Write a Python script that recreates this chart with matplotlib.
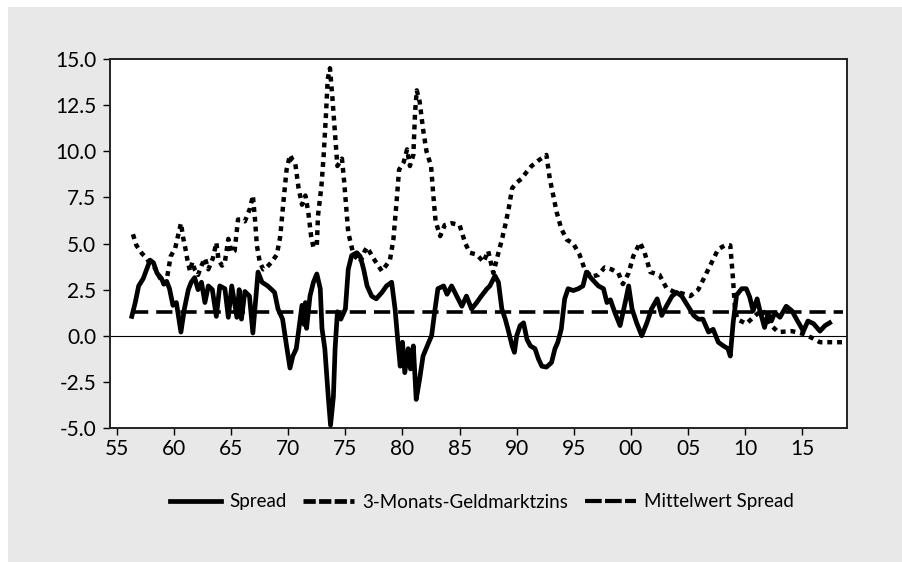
"""
Spread und 3-Monats-Geldmarktzins (Deutschland), EViews-Stil.

Werte vom Originalbild abgelesen (Jahr als Dezimalzahl, Prozent).
"""
import matplotlib
matplotlib.use("Agg")
import matplotlib.pyplot as plt
from matplotlib.lines import Line2D
from matplotlib.patches import Rectangle

# --- 3-Monats-Geldmarktzins ---
rate_t = [
    1956.4, 1956.7, 1957.2, 1957.6, 1957.9, 1958.3, 1958.7, 1959.1, 1959.4, 1959.7,
    1960.1, 1960.3, 1960.6, 1960.8, 1961.0, 1961.2, 1961.4, 1961.6, 1961.8, 1962.1,
    1962.4, 1962.7, 1963.0, 1963.4, 1963.7, 1963.9, 1964.2, 1964.45, 1964.75, 1965.05,
    1965.3, 1965.6, 1965.9, 1966.2, 1966.45, 1966.65, 1966.9, 1967.1, 1967.25, 1967.5,
    1967.8, 1968.1, 1968.55, 1969.0, 1969.3, 1969.55, 1969.85, 1970.15, 1970.4, 1970.6,
    1970.9, 1971.2, 1971.5, 1971.75, 1972.0, 1972.2, 1972.5, 1972.6, 1972.9, 1973.1,
    1973.3, 1973.45, 1973.65, 1973.85, 1974.1, 1974.3, 1974.7, 1974.9, 1975.25, 1975.7,
    1976.3, 1976.7, 1976.9, 1977.45, 1978.2, 1978.9, 1979.2, 1979.5, 1979.7, 1980.1,
    1980.4, 1980.65, 1980.95, 1981.1, 1981.25, 1981.5, 1981.8, 1982.1, 1982.5, 1982.7,
    1982.9, 1983.3, 1983.7, 1984.3, 1985.0, 1985.5, 1985.9, 1986.5, 1987.1, 1987.5,
    1987.95, 1988.4, 1988.7, 1989.0, 1989.3, 1989.6, 1990.0, 1990.4, 1990.9, 1991.3,
    1991.9, 1992.6, 1992.9, 1993.2, 1993.5, 1993.9, 1994.4, 1994.95, 1995.5, 1995.95,
    1996.55, 1997.15, 1997.7, 1998.3, 1998.9, 1999.3, 1999.8, 2000.2, 2000.8, 2001.2,
    2001.7, 2002.5, 2003.1, 2003.7, 2004.45, 2005.2, 2005.9, 2006.5, 2007.1, 2007.65,
    2008.25, 2008.7, 2008.9, 2009.1, 2009.3, 2010.1, 2010.9, 2011.5, 2012.2, 2012.9,
    2014.1, 2015.1, 2015.8, 2016.55, 2017.6, 2018.6,
]
rate_v = [
    5.5, 4.9, 4.45, 4.2, 3.9, 3.7, 3.2, 2.8, 3.2, 4.3,
    4.75, 5.3, 6.1, 5.3, 4.7, 4.0, 3.5, 4.0, 3.6, 3.3,
    3.8, 4.2, 3.6, 4.2, 5.05, 4.1, 3.8, 4.0, 5.25, 4.5,
    4.6, 6.3, 6.3, 6.2, 6.6, 6.9, 7.6, 6.2, 4.9, 4.0,
    3.6, 3.7, 4.0, 4.4, 5.4, 7.1, 9.0, 9.8, 9.5, 9.4,
    8.0, 7.1, 7.6, 6.7, 5.4, 4.8, 4.9, 6.5, 8.1, 9.8,
    12.0, 13.9, 14.5, 13.0, 10.9, 9.2, 9.6, 8.3, 5.6, 4.4,
    4.0, 4.6, 4.8, 4.2, 3.5, 4.1, 5.2, 7.4, 9.0, 9.4,
    10.1, 9.2, 9.8, 12.1, 13.3, 12.7, 11.2, 10.0, 9.2, 7.6,
    6.2, 5.4, 6.0, 6.1, 6.0, 5.0, 4.5, 4.4, 4.0, 4.6,
    3.4, 4.5, 5.2, 6.0, 6.9, 8.0, 8.3, 8.5, 8.9, 9.2,
    9.5, 9.8, 8.5, 7.6, 6.7, 5.8, 5.2, 5.0, 4.4, 3.6,
    3.2, 3.3, 3.7, 3.6, 3.4, 2.8, 3.4, 4.3, 5.05, 4.5,
    3.45, 3.3, 2.6, 2.4, 2.3, 2.15, 2.5, 3.25, 4.0, 4.7,
    4.9, 4.9, 3.4, 1.6, 0.9, 0.65, 1.1, 1.4, 0.6, 0.2,
    0.25, 0.1, -0.1, -0.35, -0.35, -0.35,
]

# --- Spread ---
spread_t = [
    1956.3, 1956.6, 1956.9, 1957.1, 1957.3, 1957.6, 1957.9, 1958.2, 1958.5, 1958.9,
    1959.1, 1959.35, 1959.6, 1959.9, 1960.2, 1960.6, 1960.9, 1961.25, 1961.5, 1961.8,
    1962.1, 1962.4, 1962.7, 1963.0, 1963.35, 1963.7, 1964.0, 1964.45, 1964.75, 1965.05,
    1965.5, 1965.7, 1965.9, 1966.2, 1966.6, 1966.9, 1967.35, 1967.7, 1968.2, 1968.8,
    1969.1, 1969.5, 1969.85, 1970.15, 1970.4, 1970.7, 1971.0, 1971.2, 1971.4, 1971.5,
    1971.6, 1971.9, 1972.2, 1972.5, 1972.8, 1972.95, 1973.2, 1973.5, 1973.7, 1973.95,
    1974.1, 1974.3, 1974.6, 1975.0, 1975.25, 1975.55, 1976.0, 1976.3, 1976.6, 1976.9,
    1977.3, 1977.7, 1978.2, 1978.6, 1979.05, 1979.35, 1979.6, 1979.8, 1980.0, 1980.2,
    1980.5, 1980.7, 1980.95, 1981.2, 1981.5, 1981.8, 1982.3, 1982.55, 1982.85, 1983.1,
    1983.6, 1983.9, 1984.3, 1984.75, 1985.2, 1985.6, 1986.05, 1986.5, 1986.9, 1987.4,
    1987.65, 1988.1, 1988.4, 1988.7, 1989.0, 1989.3, 1989.6, 1989.8, 1990.0, 1990.3,
    1990.6, 1990.9, 1991.2, 1991.6, 1991.9, 1992.2, 1992.6, 1993.05, 1993.35, 1993.6,
    1993.9, 1994.2, 1994.5, 1994.95, 1995.4, 1995.8, 1996.1, 1996.55, 1997.15, 1997.6,
    1997.9, 1998.2, 1998.6, 1999.05, 1999.5, 1999.8, 2000.1, 2000.5, 2000.95, 2001.4,
    2001.8, 2002.3, 2002.7, 2003.1, 2003.6, 2004.0, 2004.45, 2005.0, 2005.5, 2005.9,
    2006.3, 2006.8, 2007.2, 2007.65, 2008.1, 2008.5, 2008.7, 2008.95, 2009.25, 2009.7,
    2010.1, 2010.4, 2010.7, 2011.05, 2011.3, 2011.7, 2012.0, 2012.3, 2012.6, 2013.05,
    2013.6, 2014.1, 2014.5, 2015.1, 2015.5, 2016.0, 2016.55, 2017.0, 2017.4,
]
spread_v = [
    1.05, 1.8, 2.7, 2.9, 3.1, 3.6, 4.1, 3.95, 3.4, 3.1,
    2.8, 2.95, 2.55, 1.65, 1.8, 0.2, 1.45, 2.5, 2.9, 3.15,
    2.5, 2.9, 1.8, 2.7, 2.5, 1.05, 2.7, 2.55, 1.0, 2.7,
    1.0, 2.5, 0.9, 2.4, 2.15, 0.15, 3.45, 2.9, 2.7, 2.35,
    1.45, 0.9, -0.55, -1.75, -1.1, -0.7, 0.7, 1.65, 0.6, 1.8,
    0.4, 2.15, 2.9, 3.35, 2.55, 0.4, -0.7, -3.3, -4.85, -3.3,
    -0.7, 1.3, 0.9, 1.45, 3.6, 4.35, 4.5, 4.3, 3.6, 2.7,
    2.15, 2.0, 2.35, 2.7, 2.9, 1.45, -0.35, -1.65, -0.35, -2.0,
    -0.7, -1.8, -0.55, -3.45, -2.35, -1.1, -0.35, 0.0, 1.45, 2.55,
    2.7, 2.25, 2.7, 2.15, 1.6, 2.15, 1.45, 1.8, 2.15, 2.55,
    2.7, 3.25, 2.9, 1.45, 0.9, 0.2, -0.55, -0.9, 0.0, 0.55,
    0.7, -0.2, -0.55, -0.7, -1.25, -1.65, -1.7, -1.45, -0.7, -0.35,
    0.35, 2.0, 2.55, 2.45, 2.55, 2.7, 3.45, 3.1, 2.7, 2.55,
    1.8, 1.95, 1.25, 0.55, 1.8, 2.7, 1.45, 0.7, 0.0, 0.7,
    1.45, 2.0, 1.1, 1.6, 2.15, 2.35, 2.15, 1.6, 1.1, 0.9,
    0.9, 0.2, 0.35, -0.35, -0.55, -0.7, -1.1, 0.7, 2.2, 2.55,
    2.55, 2.1, 1.35, 2.0, 1.35, 0.45, 1.2, 0.8, 1.25, 1.0,
    1.6, 1.35, 0.9, 0.25, 0.8, 0.65, 0.25, 0.55, 0.7,
]

# --- Mittelwert Spread ---
mean_t = [1956.3, 2018.6]
mean_v = [1.28, 1.28]

labels = ["Spread", "3-Monats-Geldmarktzins", "Mittelwert Spread"]
x_ticks = list(range(1955, 2020, 5))
y_ticks = [-5.0, -2.5, 0.0, 2.5, 5.0, 7.5, 10.0, 12.5, 15.0]

FONT = ["Lato", "DejaVu Sans"]
BG = "#e8e8e8"


def main() -> None:
    plt.rcParams["font.family"] = FONT

    fig = plt.figure(figsize=(9.02, 5.62), dpi=100, facecolor="white")
    # grauer Hintergrund mit schmalem weißen Rand oben/links
    fig.patches.append(Rectangle((8 / 902, 0), 1, 1 - 7 / 562,
                                 transform=fig.transFigure, facecolor=BG,
                                 edgecolor="none", zorder=-10))

    ax = fig.add_axes([110 / 902, 1 - 428 / 562, 737 / 902, 369 / 562])
    ax.set_facecolor("white")

    ax.axhline(0, color="black", lw=0.8, zorder=1)
    ax.plot(mean_t, mean_v, color="black", lw=2.6,
            dashes=(4.5, 2.2), dash_capstyle="butt", zorder=2)
    ax.plot(rate_t, rate_v, color="black", lw=3.2,
            dashes=(1.1, 1.1), dash_capstyle="butt", zorder=3)
    ax.plot(spread_t, spread_v, color="black", lw=3.4,
            solid_joinstyle="round", zorder=4)

    ax.set_xlim(1954.39, 2018.92)
    ax.set_ylim(-5, 15)
    ax.set_xticks(x_ticks)
    ax.set_xticklabels([f"{y % 100:02d}" for y in x_ticks])
    ax.set_yticks(y_ticks)
    ax.set_yticklabels([f"{v:.1f}" for v in y_ticks])
    ax.tick_params(axis="both", direction="out", length=5, width=1,
                   labelsize=15, colors="black")
    ax.tick_params(axis="y", pad=5)
    ax.tick_params(axis="x", pad=3)
    for sp in ax.spines.values():
        sp.set_linewidth(1.4)
        sp.set_color("#222222")

    handles = [
        Line2D([], [], color="black", lw=3.4),
        Line2D([], [], color="black", lw=3.4, dashes=(2.6, 0.7), dash_capstyle="butt"),
        Line2D([], [], color="black", lw=3.0, dashes=(4.0, 0.8), dash_capstyle="butt"),
    ]
    fig.legend(handles, labels, loc="center", ncol=3,
               bbox_to_anchor=(482 / 902, 1 - 502 / 562), frameon=False,
               fontsize=13.5, handlelength=2.7, handletextpad=0.45,
               columnspacing=0.9)

    fig.savefig("out.png", dpi=100, facecolor=fig.get_facecolor())
    plt.close(fig)


if __name__ == "__main__":
    main()
